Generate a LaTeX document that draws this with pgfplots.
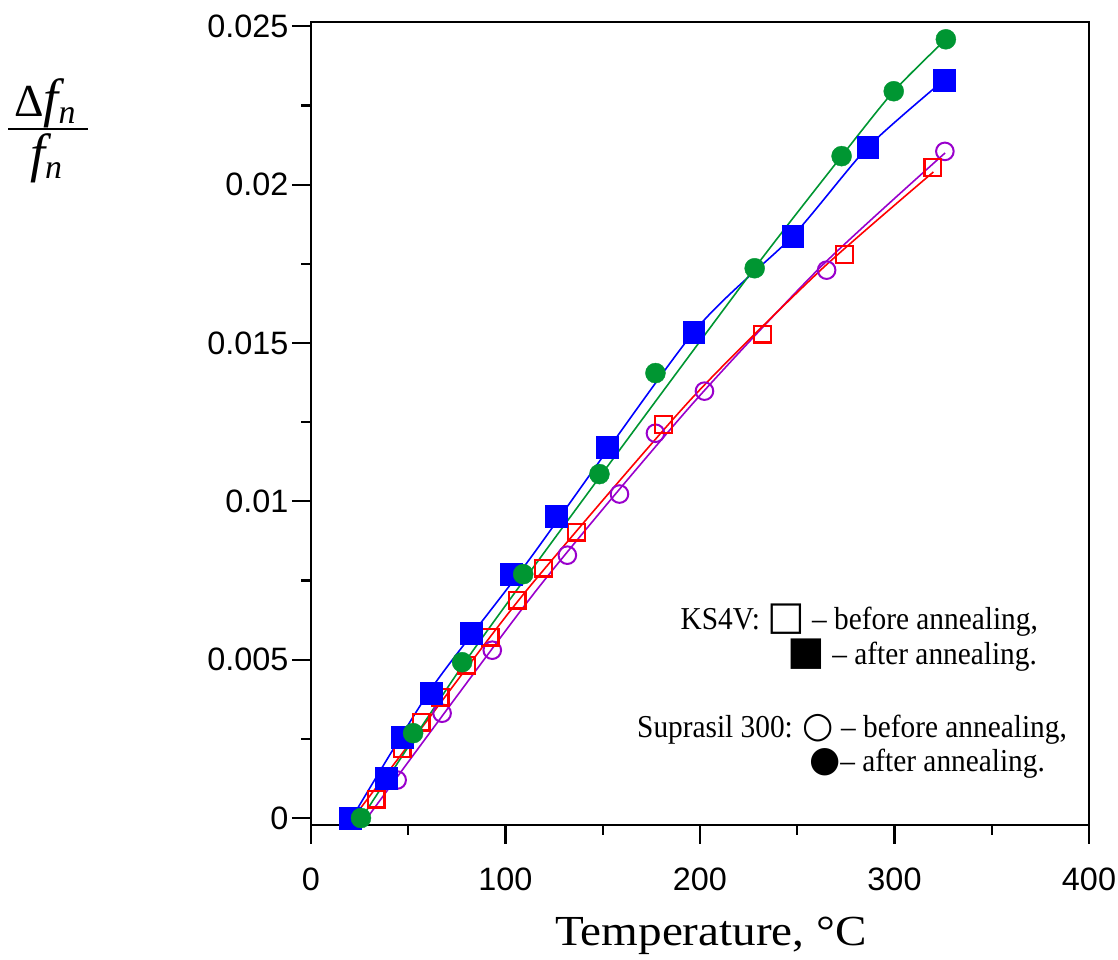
\documentclass[border=0pt]{standalone}
\usepackage{pgfplots}
\pgfplotsset{compat=1.18}
\usepackage{graphicx}
\usepackage{fontspec}
\setmainfont{Liberation Serif}
\newfontfamily\sansf{Liberation Sans}
\newfontfamily\legf[FakeStretch=0.92]{Liberation Serif}
\newfontfamily\symf{DejaVu Sans}
\definecolor{cblue}{RGB}{0,0,255}
\definecolor{cgreen}{RGB}{0,150,50}
\definecolor{cred}{RGB}{255,0,0}
\definecolor{cpurple}{RGB}{153,0,204}

\begin{document}
\begin{tikzpicture}
\path[use as bounding box] (0,0) rectangle (1118bp,960bp);
\begin{axis}[
  at={(311bp,135bp)}, anchor=south west,
  scale only axis, width=778bp, height=803bp,
  xmin=0, xmax=400, ymin=-0.00022, ymax=0.025136,
  axis line style={line width=2.2bp},
  every tick/.style={line width=2.2bp, black},
  major tick length=19bp, minor tick length=10bp,
  tick align=outside,
  xtick pos=bottom, ytick pos=left,
  xtick={0,100,200,300,400}, minor xtick={50,150,250,350},
  xticklabels={0,100,200,300,400},
  ytick={0,0.005,0.01,0.015,0.02,0.025},
  minor ytick={0.0025,0.0075,0.0125,0.0175,0.0225},
  yticklabels={0,0.005,0.01,0.015,0.02,0.025},
  scaled y ticks=false,
  /pgf/number format/assume math mode=true,
  ticklabel style={font=\fontsize{32.5}{38}\selectfont\sansf},
  xticklabel style={yshift=-20bp},
  clip=false,
]
% fitted lines
\addplot[cpurple, line width=1.6bp, smooth, tension=0.4] coordinates {
 (28.8,0) (116,0.0072) (195,0.0130) (262,0.0174) (326,0.0210)};
\addplot[cred, line width=1.6bp, smooth, tension=0.4] coordinates {
 (21.6,0) (60,0.0031) (111,0.0072) (195,0.0132) (262,0.0173) (320,0.0204)};
\addplot[cblue, line width=1.6bp, smooth, tension=0.4] coordinates {
 (21,0) (62,0.0041) (112.7,0.0082) (196.7,0.01534) (247.6,0.01837) (286.2,0.02118) (325.4,0.0233)};
\addplot[cgreen, line width=1.6bp, smooth, tension=0.4] coordinates {
 (26,0) (80,0.0050) (150,0.0109) (228,0.01736) (272.8,0.0209) (299.6,0.02295) (326.4,0.02459)};
% Suprasil 300 before annealing
\addplot[only marks, mark=o, mark size=8.8bp, mark options={draw=cpurple, line width=2bp}] coordinates {
 (44.3,0.00120) (67.4,0.00331) (93.2,0.00530) (131.8,0.00830) (158.6,0.01023)
 (177.1,0.01215) (202.3,0.01348) (265.1,0.01730) (325.9,0.02105)};
% KS4V before annealing
\addplot[only marks, mark=square, mark size=8.4bp, mark options={draw=cred, line width=2.2bp}] coordinates {
 (33.5,0.00060) (46.8,0.00218) (56.6,0.00303) (66.4,0.00382) (79.8,0.00483)
 (92.1,0.00571) (106.0,0.00688) (119.4,0.00789) (136.4,0.00903) (181.2,0.01242)
 (232.2,0.01528) (274.4,0.01780) (319.7,0.02055)};
% KS4V after annealing
\addplot[only marks, mark=square*, mark size=10.8bp, mark options={draw=cblue, fill=cblue, line width=0.4bp}] coordinates {
 (20.1,0) (38.6,0.00126) (46.8,0.00256) (61.8,0.00395) (82.4,0.00584) (103.0,0.00770)
 (126.1,0.00953) (152.4,0.01171) (196.7,0.01534) (247.6,0.01837) (286.2,0.02118) (325.4,0.02330)};
% Suprasil 300 after annealing
\addplot[only marks, mark=*, mark size=10bp, mark options={draw=cgreen, fill=cgreen, line width=0.4bp}] coordinates {
 (25.7,0) (52.5,0.00268) (77.7,0.00492) (109.1,0.00770) (148.3,0.01086) (177.1,0.01405)
 (228.1,0.01736) (272.8,0.02090) (299.6,0.02295) (326.4,0.02459)};
\end{axis}
% legend text
\begingroup
\fontsize{32}{38}\selectfont\legf
\node[anchor=base east, inner sep=0pt] at (1038bp,330bp) {KS4V: {\fontsize{40}{40}\selectfont\symf\bfseries □} – before annealing,};
\node[anchor=base east, inner sep=0pt] at (1037bp,295bp) {{\fontsize{40}{40}\selectfont\symf ■} – after annealing.};
\node[anchor=base east, inner sep=0pt] at (1067bp,222bp) {Suprasil 300: {\fontsize{36}{36}\selectfont\symf\bfseries ○} – before annealing,};
\node[anchor=base east, inner sep=0pt] at (1045bp,188bp) {{\fontsize{36}{36}\selectfont\symf ●}– after annealing.};
\endgroup
% axis title x
\node[anchor=base, inner sep=0pt] at (711bp,15bp) {\scalebox{1.1}[1]{\fontsize{43}{48}\selectfont Temperature, °C}};
% y label: fraction
\node[anchor=base, inner sep=0pt] at (45bp,843bp) {{\fontsize{46}{50}\selectfont Δ}{\fontsize{54}{58}\selectfont\itshape f}\raisebox{-7bp}{\fontsize{34}{38}\selectfont\itshape n}};
\draw[line width=2bp] (8bp,831bp) -- (88bp,831bp);
\node[anchor=base, inner sep=0pt] at (46bp,788bp) {{\fontsize{54}{58}\selectfont\itshape f}\raisebox{-7bp}{\fontsize{34}{38}\selectfont\itshape n}};
\end{tikzpicture}
\end{document}
